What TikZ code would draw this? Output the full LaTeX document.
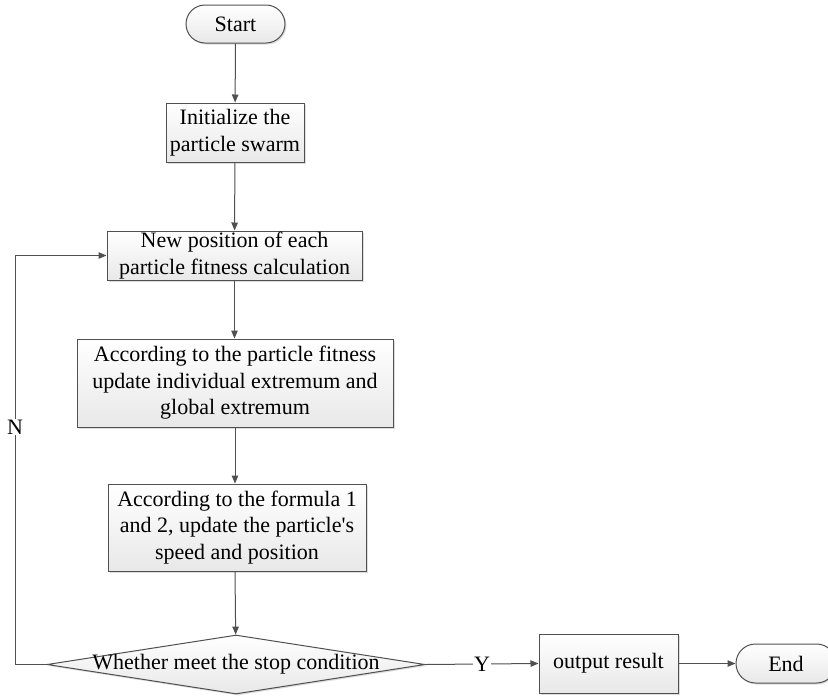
\documentclass[tikz,border=0pt]{standalone}
\usepackage{fontspec}
\setmainfont{Liberation Serif}
\usetikzlibrary{shapes.geometric,shapes.misc,shadows,arrows.meta}
\definecolor{linec}{HTML}{505050}
\tikzset{
  base/.style={draw=linec, line width=1pt, top color=white, bottom color=gray!18,
    drop shadow={shadow xshift=1.5pt, shadow yshift=-1.5pt, fill=gray!45, opacity=0.6},
    font=\fontsize{22}{26.5}\selectfont, align=center, inner sep=0pt},
  procbox/.style={base, rectangle},
  term/.style={base, rounded rectangle},
  decis/.style={base, diamond},
  conn/.style={draw=linec, line width=1pt, -{Triangle[length=8pt,width=6.5pt]}},
  lbl/.style={fill=white, inner sep=1pt, font=\fontsize{22}{26.5}\selectfont}
}
\begin{document}
\begin{tikzpicture}[x=1pt,y=-1pt]
\useasboundingbox (0,0) rectangle (828,697);
\node[term, minimum width=99pt, minimum height=38pt] (start) at (235.5,24) {Start};
\node[procbox, minimum width=138pt, minimum height=59pt] (init) at (235,132.5) {Initialize the\\particle swarm};
\node[procbox, minimum width=255pt, minimum height=49pt] (new) at (234.5,255.5) {New position of each\\particle fitness calculation};
\node[procbox, minimum width=316pt, minimum height=88pt] (acc1) at (235,383) {According to the particle fitness\\update individual extremum and\\global extremum};
\node[procbox, minimum width=258pt, minimum height=87pt] (acc2) at (237,527.5) {According to the formula 1\\and 2, update the particle\textquotesingle s\\speed and position};
\node[decis, minimum width=378pt, minimum height=59pt] (dec) at (236,664.5) {};
\node[font=\fontsize{22}{26.5}\selectfont, inner sep=0pt] (dectext) at (236,664.5) {Whether meet the stop condition};
\node[procbox, minimum width=139pt, minimum height=59pt] (out) at (608.5,663.5) {output result};
\node[term, minimum width=100pt, minimum height=39pt] (end) at (786,663.5) {End};
\coordinate (lb) at (15,664.5);
\coordinate (lt) at (15,255.5);
\draw[conn] (start) -- (init);
\draw[conn] (init) -- (new);
\draw[conn] (new) -- (new |- acc1.north);
\draw[conn] (acc1) -- (acc1 |- acc2.north);
\draw[conn] (acc1 |- acc2.south) -- (dec);
\draw[conn] (dec.west) -- (lb) -- node[lbl, pos=0.58] {N} (lt) -- (new.west);
\draw[conn] (dec.east) -- node[lbl, pos=0.5] {Y} (out.west);
\draw[conn] (out) -- (end);
\end{tikzpicture}
\end{document}
